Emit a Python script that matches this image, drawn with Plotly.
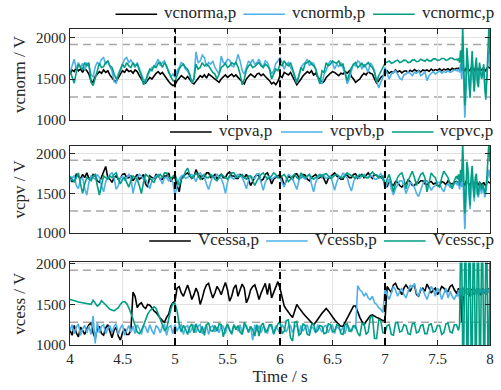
import plotly.graph_objects as go

# ---------------- time grid (s) ----------------
t = [round(4.0 + 0.02 * i, 2) for i in range(185)] + [round(7.69 + 0.01 * i, 2) for i in range(32)]

# ---------------- panel 1: vcnorm ----------------
vcnorma = [1560, 1610, 1590, 1640, 1600, 1620, 1580, 1630, 1600, 1560,
           1480, 1460, 1530, 1560, 1590, 1570, 1610, 1580, 1600, 1550,
           1510, 1480, 1470, 1520, 1560, 1600, 1580, 1620, 1590, 1600,
           1570, 1610, 1590, 1540, 1500, 1460, 1450, 1480, 1520, 1500,
           1540, 1570, 1590, 1560, 1580, 1540, 1500, 1470, 1440, 1420,
           1430, 1480, 1510, 1540, 1520, 1500, 1530, 1490, 1460, 1440,
           1470, 1500, 1540, 1520, 1550, 1510, 1560, 1540, 1520, 1500,
           1480, 1460, 1500, 1530, 1550, 1520, 1540, 1560, 1530, 1550,
           1520, 1490, 1460, 1440, 1500, 1530, 1560, 1540, 1520, 1560,
           1570, 1540, 1560, 1530, 1510, 1480, 1440, 1460, 1430, 1470,
           1540, 1520, 1580, 1560, 1550, 1580, 1520, 1480, 1430, 1460,
           1500, 1540, 1560, 1590, 1570, 1600, 1550, 1570, 1520, 1500,
           1450, 1470, 1520, 1550, 1570, 1590, 1580, 1560, 1540, 1570,
           1560, 1590, 1570, 1600, 1530, 1500, 1460, 1480, 1500, 1540,
           1570, 1550, 1590, 1570, 1560, 1500, 1450, 1480, 1520, 1540,
           1560, 1600, 1570, 1590, 1580, 1610, 1585, 1600, 1575, 1595,
           1600, 1580, 1605, 1590, 1615, 1595, 1605, 1585, 1610, 1600,
           1610, 1595, 1620, 1600, 1615, 1605, 1625, 1600, 1620, 1610,
           1625, 1605, 1630, 1615, 1630,
           1625, 1630, 1615, 1640, 1620, 1650, 1610, 1600, 1630, 1645,
           1625, 1610, 1600, 1635, 1650, 1620, 1605, 1630, 1640, 1615,
           1610, 1635, 1625, 1610, 1620, 1640, 1615, 1600, 1625, 1650,
           1640, 1630]
vcnormb = [1580, 1650, 1740, 1620, 1700, 1640, 1690, 1610, 1700, 1650,
           1560, 1520, 1650, 1700, 1680, 1740, 1760, 1680, 1720, 1650,
           1600, 1470, 1450, 1560, 1620, 1700, 1740, 1760, 1700, 1730,
           1680, 1640, 1700, 1620, 1560, 1500, 1460, 1540, 1600, 1640,
           1640, 1700, 1740, 1660, 1700, 1720, 1640, 1600, 1520, 1560,
           1520, 1600, 1640, 1700, 1680, 1620, 1600, 1540, 1470, 1500,
           1830, 1700, 1720, 1790, 1760, 1650, 1700, 1680, 1720, 1640,
           1600, 1560, 1780, 1700, 1690, 1740, 1730, 1660, 1650, 1700,
           1800, 1720, 1600, 1560, 1640, 1720, 1690, 1740, 1680, 1700,
           1740, 1680, 1650, 1720, 1700, 1620, 1560, 1600, 1690, 1720,
           1760, 1700, 1620, 1680, 1700, 1640, 1600, 1520, 1450, 1540,
           1640, 1680, 1700, 1740, 1660, 1700, 1690, 1620, 1520, 1460,
           1450, 1560, 1600, 1680, 1720, 1700, 1620, 1680, 1650, 1700,
           1640, 1560, 1440, 1500, 1600, 1680, 1660, 1720, 1700, 1620,
           1680, 1640, 1580, 1700, 1660, 1600, 1480, 1390, 1460, 1520,
           1640, 1580, 1500, 1560, 1580, 1600, 1560, 1510, 1490, 1550,
           1560, 1590, 1570, 1540, 1580, 1570, 1600, 1540, 1560, 1590,
           1480, 1540, 1570, 1590, 1560, 1580, 1600, 1570, 1590, 1580,
           1600, 1580, 1590, 1610, 1600,
           1600, 1620, 1580, 1680, 1500, 1900, 1350, 1030, 1300, 1750,
           1650, 1450, 1300, 1550, 1750, 1500, 1350, 1600, 1700, 1480,
           1450, 1650, 1600, 1520, 1550, 1640, 1450, 1400, 1520, 1700,
           1850, 1650]
vcnormc = [1600, 1520, 1450, 1580, 1680, 1640, 1620, 1700, 1660, 1700,
           1460, 1420, 1520, 1600, 1690, 1640, 1650, 1700, 1720, 1660,
           1640, 1560, 1500, 1540, 1600, 1680, 1640, 1700, 1660, 1640,
           1700, 1660, 1680, 1620, 1540, 1430, 1480, 1560, 1620, 1600,
           1660, 1640, 1690, 1700, 1640, 1700, 1660, 1580, 1520, 1480,
           1470, 1540, 1620, 1660, 1680, 1640, 1620, 1560, 1450, 1500,
           1680, 1620, 1640, 1700, 1660, 1680, 1660, 1620, 1580, 1560,
           1500, 1560, 1640, 1660, 1690, 1640, 1660, 1700, 1680, 1700,
           1650, 1560, 1430, 1500, 1610, 1660, 1680, 1640, 1650, 1680,
           1700, 1660, 1640, 1680, 1660, 1620, 1500, 1560, 1620, 1600,
           1680, 1660, 1720, 1680, 1660, 1700, 1620, 1560, 1460, 1540,
           1640, 1600, 1690, 1700, 1720, 1680, 1660, 1620, 1520, 1440,
           1600, 1580, 1700, 1660, 1680, 1720, 1700, 1690, 1720, 1660,
           1680, 1560, 1480, 1560, 1640, 1680, 1700, 1640, 1660, 1690,
           1650, 1680, 1700, 1660, 1640, 1580, 1460, 1540, 1600, 1640,
           1690, 1710, 1720, 1690, 1700, 1720, 1730, 1700, 1710, 1730,
           1725, 1700, 1705, 1730, 1735, 1710, 1715, 1740, 1730, 1715,
           1740, 1720, 1720, 1745, 1745, 1725, 1730, 1750, 1750, 1730,
           1735, 1755, 1755, 1735, 1740,
           1730, 1750, 1700, 1850, 1600, 2150, 1500, 1180, 1400, 1880,
           1700, 1500, 1270, 1600, 1840, 1550, 1350, 1650, 1760, 1450,
           1400, 1700, 1620, 1500, 1560, 1680, 1390, 1250, 1500, 1900,
           2150, 1800]

# ---------------- panel 2: vcpv ----------------
vcpva = [1700, 1650, 1660, 1740, 1720, 1680, 1740, 1700, 1760, 1690,
         1690, 1740, 1720, 1660, 1640, 1700, 1780, 1840, 1700, 1680,
         1640, 1700, 1720, 1680, 1690, 1740, 1750, 1700, 1700, 1720,
         1660, 1700, 1740, 1680, 1700, 1740, 1620, 1580, 1720, 1700,
         1690, 1740, 1730, 1680, 1680, 1720, 1720, 1760, 1650, 1700,
         1700, 1600, 1520, 1680, 1720, 1740, 1760, 1720, 1690, 1710,
         1800, 1740, 1720, 1680, 1700, 1760, 1760, 1700, 1710, 1740,
         1680, 1720, 1740, 1700, 1700, 1750, 1770, 1720, 1720, 1690,
         1690, 1740, 1730, 1700, 1740, 1680, 1600, 1650, 1710, 1740,
         1720, 1660, 1680, 1740, 1760, 1700, 1620, 1680, 1700, 1720,
         1740, 1690, 1600, 1660, 1720, 1700, 1680, 1740, 1750, 1700,
         1700, 1740, 1730, 1680, 1660, 1700, 1720, 1740, 1690, 1700,
         1740, 1680, 1620, 1690, 1710, 1740, 1760, 1720, 1700, 1680,
         1680, 1740, 1730, 1700, 1700, 1740, 1750, 1690, 1720, 1740,
         1700, 1730, 1760, 1720, 1690, 1740, 1730, 1700, 1710, 1680,
         1620, 1580, 1660, 1620, 1600, 1650, 1640, 1600, 1580, 1620,
         1620, 1670, 1650, 1600, 1600, 1640, 1630, 1660, 1660, 1620,
         1610, 1640, 1650, 1620, 1630, 1600, 1600, 1650, 1640, 1610,
         1660, 1630, 1620, 1640, 1650,
         1640, 1620, 1650, 1630, 1660, 1640, 1620, 1600, 1650, 1660,
         1630, 1620, 1600, 1640, 1660, 1630, 1610, 1640, 1650, 1620,
         1610, 1640, 1630, 1610, 1620, 1640, 1610, 1600, 1630, 1650,
         1640, 1630]
vcpvb = [1650, 1700, 1720, 1600, 1560, 1680, 1700, 1560, 1480, 1640,
         1720, 1700, 1680, 1740, 1700, 1600, 1520, 1650, 1700, 1740,
         1760, 1700, 1550, 1600, 1700, 1720, 1660, 1700, 1740, 1700,
         1500, 1620, 1700, 1740, 1720, 1680, 1680, 1620, 1560, 1660,
         1700, 1720, 1740, 1680, 1620, 1700, 1700, 1660, 1680, 1640,
         1470, 1600, 1680, 1720, 1730, 1690, 1700, 1740, 1740, 1700,
         1650, 1720, 1760, 1720, 1700, 1620, 1550, 1640, 1720, 1700,
         1740, 1700, 1690, 1620, 1500, 1640, 1720, 1700, 1680, 1720,
         1740, 1720, 1700, 1640, 1560, 1660, 1720, 1700, 1690, 1740,
         1750, 1640, 1540, 1640, 1700, 1720, 1680, 1700, 1720, 1700,
         1700, 1640, 1580, 1680, 1740, 1720, 1690, 1620, 1550, 1660,
         1720, 1700, 1680, 1720, 1740, 1620, 1520, 1640, 1700, 1720,
         1740, 1720, 1690, 1700, 1720, 1640, 1540, 1640, 1710, 1700,
         1760, 1720, 1700, 1600, 1530, 1640, 1720, 1700, 1690, 1720,
         1740, 1700, 1700, 1720, 1720, 1680, 1680, 1720, 1750, 1700,
         1560, 1620, 1680, 1560, 1480, 1560, 1620, 1660, 1660, 1600,
         1500, 1580, 1640, 1620, 1580, 1500, 1460, 1540, 1620, 1660,
         1660, 1600, 1540, 1580, 1600, 1640, 1640, 1560, 1520, 1600,
         1620, 1580, 1580, 1620, 1640,
         1600, 1650, 1550, 1700, 1580, 1850, 1400, 1050, 1350, 1800,
         1700, 1450, 1300, 1600, 1750, 1550, 1400, 1650, 1700, 1480,
         1450, 1600, 1550, 1500, 1580, 1550, 1450, 1500, 1620, 1750,
         1800, 1700]
vcpvc = [1720, 1680, 1640, 1700, 1760, 1620, 1500, 1620, 1700, 1680,
         1660, 1720, 1740, 1600, 1480, 1600, 1720, 1700, 1680, 1720,
         1700, 1740, 1760, 1680, 1620, 1680, 1700, 1640, 1580, 1660,
         1720, 1700, 1680, 1600, 1500, 1640, 1740, 1720, 1700, 1660,
         1640, 1700, 1720, 1740, 1700, 1760, 1760, 1700, 1690, 1720,
         1740, 1660, 1600, 1680, 1700, 1780, 1820, 1740, 1690, 1720,
         1760, 1720, 1680, 1720, 1740, 1700, 1700, 1740, 1720, 1680,
         1660, 1700, 1740, 1720, 1700, 1680, 1720, 1760, 1760, 1720,
         1700, 1720, 1740, 1700, 1680, 1720, 1720, 1660, 1600, 1660,
         1700, 1740, 1760, 1720, 1680, 1700, 1720, 1760, 1740, 1700,
         1700, 1720, 1740, 1700, 1650, 1680, 1720, 1740, 1700, 1680,
         1760, 1720, 1700, 1720, 1740, 1700, 1680, 1700, 1720, 1740,
         1700, 1740, 1750, 1720, 1690, 1700, 1730, 1740, 1720, 1700,
         1700, 1720, 1760, 1740, 1720, 1700, 1690, 1720, 1740, 1720,
         1720, 1700, 1700, 1740, 1770, 1740, 1730, 1700, 1700, 1720,
         1600, 1680, 1740, 1640, 1520, 1620, 1700, 1740, 1760, 1680,
         1560, 1660, 1720, 1780, 1700, 1600, 1680, 1740, 1760, 1700,
         1520, 1640, 1760, 1720, 1700, 1600, 1580, 1700, 1780, 1740,
         1700, 1620, 1560, 1660, 1720,
         1680, 1740, 1600, 1800, 1650, 2150, 1700, 1250, 1500, 1900,
         1800, 1550, 1350, 1700, 1850, 1600, 1450, 1700, 1750, 1500,
         1480, 1650, 1600, 1550, 1620, 1580, 1500, 1560, 1700, 1850,
         2150, 1900]

# ---------------- panel 3: vcess ----------------
Vcessa = [1180, 1120, 1240, 1150, 1100, 1220, 1180, 1130, 1200, 1250,
          1270, 1150, 1080, 1200, 1230, 1140, 1120, 1210, 1250, 1160,
          1090, 1180, 1220, 1110, 1060, 1150, 1200, 1130, 1130, 1180,
          1650, 1600, 1460, 1500, 1520, 1470, 1450, 1500, 1490, 1460,
          1420, 1400, 1360, 1330, 1300, 1280, 1340, 1380, 1480, 1520,
          1540, 1700, 1720, 1640, 1600, 1680, 1740, 1660, 1560, 1620,
          1700, 1640, 1500, 1580, 1680, 1740, 1760, 1660, 1580, 1640,
          1720, 1680, 1620, 1700, 1770, 1680, 1540, 1600, 1700, 1740,
          1600, 1680, 1750, 1700, 1520, 1580, 1680, 1720, 1740, 1660,
          1560, 1640, 1700, 1760, 1620, 1760, 1580, 1640, 1720, 1780,
          1700, 1580, 1480, 1440, 1400, 1370, 1340, 1420, 1500, 1460,
          1420, 1390, 1360, 1330, 1300, 1270, 1250, 1280, 1320, 1360,
          1390, 1420, 1450, 1420, 1380, 1340, 1310, 1280, 1250, 1230,
          1230, 1280, 1330, 1390, 1440, 1480, 1480, 1400, 1340, 1290,
          1250, 1290, 1330, 1360, 1370, 1350, 1340, 1330, 1310, 1300,
          1300, 1720, 1680, 1650, 1740, 1760, 1700, 1680, 1620, 1700,
          1740, 1700, 1660, 1720, 1740, 1620, 1600, 1680, 1700, 1660,
          1750, 1700, 1640, 1680, 1700, 1620, 1660, 1720, 1700, 1660,
          1660, 1720, 1740, 1680, 1640,
          1660, 1700, 1620, 1680, 1280, 1600, 1700, 1640, 1680, 1620,
          1700, 1650, 1600, 1690, 1640, 1700, 1620, 1680, 1650, 1700,
          1630, 1690, 1610, 1670, 1700, 1640, 1680, 1620, 1660, 1700,
          1650, 1680]
Vcessb = [1180, 1250, 1140, 1220, 1260, 1120, 1200, 1240, 1150, 1230,
          1130, 1360, 1020, 1280, 1150, 1230, 1250, 1140, 1200, 1240,
          1150, 1230, 1260, 1130, 1210, 1250, 1120, 1190, 1240, 1160,
          1230, 1140, 1250, 1200, 1130, 1240, 1220, 1150, 1250, 1180,
          1130, 1240, 1210, 1150, 1230, 1250, 1120, 1220, 1240, 1140,
          1250, 1170, 1230, 1250, 1130, 1220, 1240, 1150, 1210, 1250,
          1150, 1230, 1250, 1140, 1200, 1250, 1130, 1220, 1240, 1160,
          1220, 1150, 1240, 1230, 1140, 1250, 1200, 1130, 1240, 1220,
          1170, 1250, 1140, 1220, 1240, 1150, 1230, 1060, 1250, 1170,
          1240, 1150, 1230, 1200, 1140, 1250, 1220, 1130, 1240, 1190,
          1140, 1250, 1210, 1160, 1230, 1240, 1150, 1220, 1250, 1130,
          1240, 1170, 1220, 1250, 1140, 1230, 1200, 1150, 1250, 1210,
          1160, 1230, 1240, 1150, 1220, 1250, 1140, 1230, 1200, 1170,
          1220, 1140, 1250, 1210, 1160, 1240, 1200, 1730, 1680, 1660,
          1600, 1640, 1580, 1560, 1600, 1520, 1500, 1460, 1440, 1400,
          1690, 1620, 1560, 1640, 1720, 1680, 1600, 1660, 1700, 1620,
          1580, 1660, 1740, 1700, 1760, 1640, 1600, 1700, 1680, 1620,
          1560, 1640, 1720, 1680, 1600, 1700, 1660, 1560, 1620, 1700,
          1580, 1660, 1600, 1560, 1620,
          1600, 1680, 1560, 1700, 1620, 1720, 1600, 1680, 1640, 1700,
          1620, 1660, 1700, 1600, 1680, 1640, 1720, 1620, 1660, 1700,
          1610, 1690, 1640, 1700, 1620, 1680, 1650, 1700, 1630, 1690,
          1660, 1640]
Vcessc = [1560, 1555, 1545, 1540, 1530, 1525, 1520, 1510, 1505, 1500,
          1500, 1550, 1520, 1480, 1500, 1545, 1520, 1490, 1460, 1440,
          1430, 1420, 1440, 1460, 1500, 1530, 1535, 1510, 1460, 1400,
          1320, 1240, 1160, 1140, 1180, 1240, 1320, 1380, 1420, 1440,
          1470, 1450, 1380, 1310, 1250, 1180, 1200, 1330, 1440, 1510,
          1510, 1420, 1250, 1160, 1240, 1200, 1130, 1220, 1260, 1150,
          1260, 1190, 1150, 1230, 1120, 1250, 1270, 1180, 1170, 1240,
          1170, 1260, 1250, 1100, 1200, 1260, 1180, 1140, 1250, 1190,
          1240, 1160, 1130, 1280, 1210, 1160, 1230, 1190, 1110, 1250,
          1110, 1240, 1270, 1160, 1180, 1250, 1250, 1140, 1200, 1260,
          1280, 1140, 1170, 1300, 1310, 1090, 1050, 1280, 1290, 1120,
          1140, 1260, 1240, 1130, 1120, 1250, 1260, 1160, 1180, 1240,
          1230, 1140, 1150, 1260, 1250, 1160, 1170, 1250, 1240, 1140,
          1130, 1250, 1260, 1170, 1180, 1240, 1230, 1150, 1110, 1260,
          1270, 1130, 1160, 1340, 1360, 1080, 1080, 1310, 1300, 1150,
          1150, 1240, 1250, 1130, 1120, 1270, 1280, 1160, 1170, 1250,
          1240, 1140, 1130, 1260, 1270, 1150, 1160, 1240, 1250, 1140,
          1140, 1250, 1260, 1160, 1170, 1240, 1240, 1130, 1150, 1260,
          1270, 1160, 1150, 1250, 1250,
          1220, 1180, 1250, 2200, 2200, 900, 900, 2200, 2200, 900,
          900, 2200, 2200, 900, 900, 2200, 2200, 900, 900, 2200,
          2200, 900, 900, 2200, 2200, 900, 900, 2200, 2200, 900,
          900, 2200]

panel_titles = ["vcnorm / V", "vcpv / V", "vcess / V"]
series_names = [["vcnorma,p", "vcnormb,p", "vcnormc,p"],
                ["vcpva,p", "vcpvb,p", "vcpvc,p"],
                ["Vcessa,p", "Vcessb,p", "Vcessc,p"]]
series_values = [[vcnorma, vcnormb, vcnormc],
                 [vcpva, vcpvb, vcpvc],
                 [Vcessa, Vcessb, Vcessc]]
x_tick_vals = [4, 4.5, 5, 5.5, 6, 6.5, 7, 7.5, 8]
x_tick_text = ["4", "4.5", "5", "5.5", "6", "6.5", "7", "7.5", "8"]
y_tick_vals = [1000, 1500, 2000]
y_tick_text = ["1000", "1500", "2000"]
band_levels = [1920, 1280]
event_times = [5, 6, 7]

# ---------------- styling ----------------
colors = ["#000000", "#4DB0E6", "#009E82"]
FONT = "Liberation Serif, Times New Roman, DejaVu Serif, serif"
TXT = "#262626"
W, H = 501, 390
ML, MR, MT, MB = 70, 7, 29, 42
PW, PH = W - ML - MR, H - MT - MB


def px(xp):
    return (xp - ML) / PW


def py(yp):
    return (H - MB - yp) / PH


domains = [[py(121), 1.0], [py(235), py(146.7)], [0.0, py(264.7)]]
y_ranges = [[1000, 2108], [1000, 2104], [1000, 2016]]
legend_y = [14, 133, 243]
legend_text_x = [[163, 292, 423], [218, 330, 442], [197, 315, 434]]

fig = go.Figure()
shapes = []
annotations = []
for k in range(3):
    sfx = "" if k == 0 else str(k + 1)
    for j in range(3):
        fig.add_trace(go.Scatter(
            x=t, y=series_values[k][j], mode="lines", name=series_names[k][j],
            xaxis="x" + sfx, yaxis="y" + sfx, showlegend=False,
            line=dict(color=colors[j], width=1.6)))
    xax = dict(range=[4, 8], tickvals=x_tick_vals, ticktext=x_tick_text,
               showticklabels=(k == 2), anchor="y" + sfx, domain=[0, 1],
               showgrid=True, gridcolor="#e2e2e2", gridwidth=1,
               showline=True, linecolor=TXT, linewidth=1, mirror="ticks",
               ticks="inside", ticklen=5, tickcolor=TXT, zeroline=False,
               tickfont=dict(family=FONT, size=15, color=TXT))
    if k == 2:
        xax["title"] = dict(text="Time / s", font=dict(family=FONT, size=17, color=TXT), standoff=4)
    yax = dict(range=y_ranges[k], tickvals=y_tick_vals, ticktext=y_tick_text,
               anchor="x" + sfx, domain=domains[k],
               showgrid=True, gridcolor="#e2e2e2", gridwidth=1,
               showline=True, linecolor=TXT, linewidth=1, mirror="ticks",
               ticks="inside", ticklen=5, tickcolor=TXT, zeroline=False,
               tickfont=dict(family=FONT, size=15, color=TXT),
               title=dict(text=panel_titles[k], font=dict(family=FONT, size=17, color=TXT), standoff=6))
    fig.layout["xaxis" + sfx] = xax
    fig.layout["yaxis" + sfx] = yax

    for lv in band_levels:
        shapes.append(dict(type="line", xref="x" + sfx, yref="y" + sfx, x0=4, x1=8, y0=lv, y1=lv,
                           line=dict(color="#a8a8a8", width=1.5, dash="8px,5px"), layer="below"))
    for ev in event_times:
        shapes.append(dict(type="line", xref="x" + sfx, yref="y" + sfx + " domain", x0=ev, x1=ev, y0=0, y1=1,
                           line=dict(color="#000000", width=2, dash="7px,4px"), layer="above"))
    # legend (drawn manually to match the original line length/spacing)
    for j in range(3):
        tx = legend_text_x[k][j]
        shapes.append(dict(type="line", xref="paper", yref="paper",
                           x0=px(tx - 47), x1=px(tx - 5), y0=py(legend_y[k]), y1=py(legend_y[k]),
                           line=dict(color=colors[j], width=1.5)))
        annotations.append(dict(text=series_names[k][j], xref="paper", yref="paper",
                                x=px(tx), y=py(legend_y[k] - 2), xanchor="left", yanchor="middle",
                                showarrow=False, font=dict(family=FONT, size=17, color=TXT)))

fig.update_layout(width=W, height=H, margin=dict(l=ML, r=MR, t=MT, b=MB),
                  plot_bgcolor="white", paper_bgcolor="white",
                  shapes=shapes, annotations=annotations, showlegend=False)
fig.write_html("out.html")
